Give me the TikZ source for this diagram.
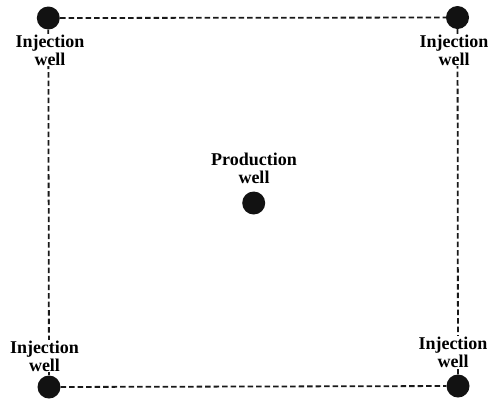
\documentclass[tikz,border=0pt]{standalone}
\usepackage{fontspec}
\setmainfont{Liberation Serif}
\begin{document}
\begin{tikzpicture}[x=1pt,y=-1pt,
  well/.style={circle,fill=black!93,minimum size=23pt,inner sep=0pt},
  lbl/.style={align=center,fill=white,inner sep=1pt,anchor=north,
    font=\bfseries\fontsize{18}{18}\selectfont},
  link/.style={line width=1.8pt,draw=black!90,dash pattern=on 5.5pt off 3pt}]
  \useasboundingbox[fill=white] (0,0) rectangle (489,400);
  % wells
  \node[well] (tl) at (48.3,18) {};
  \node[well] (tr) at (457.5,17.5) {};
  \node[well] (bl) at (49,387) {};
  \node[well] (br) at (458,386) {};
  \node[well] (pw) at (253.7,203) {};
  % boundary of the pattern
  \draw[link] (tl) -- (tr);
  \draw[link] (bl) -- (br);
  \draw[link] (tl) -- (bl);
  \draw[link] (tr) -- (br);
  % labels
  \node[lbl] (ltl) at (50,33.6) {Injection\\well};
  \node[lbl] (ltr) at (454,33.6) {Injection\\well};
  \node[lbl] (lbl1) at (44.5,339.6) {Injection\\well};
  \node[lbl] (lbr) at (453,336) {Injection\\well};
  \node[lbl] (lpw) at (254,152.3) {Production\\well};
\end{tikzpicture}
\end{document}
